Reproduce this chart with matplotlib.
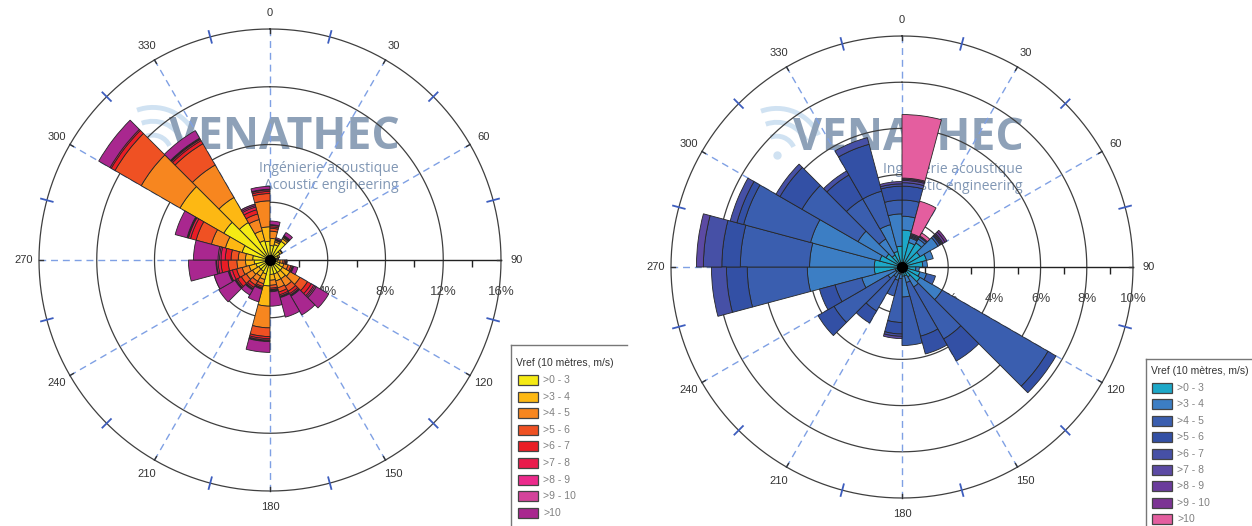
import numpy as np
import matplotlib
matplotlib.use("Agg")
import matplotlib.pyplot as plt
from matplotlib.patches import Rectangle, Arc
from matplotlib.lines import Line2D
from matplotlib.markers import TICKDOWN
from matplotlib.transforms import offset_copy

# ---------------- data ----------------
sector_start = list(range(0, 360, 15))          # 24 sectors of 15 degrees
speed_classes = [">0 - 3", ">3 - 4", ">4 - 5", ">5 - 6", ">6 - 7",
                 ">7 - 8", ">8 - 9", ">9 - 10", ">10"]
legend_title = "Vref (10 mètres, m/s)"
angle_labels = ["0", "30", "60", "90", "120", "150", "180", "210", "240", "270", "300", "330"]

# left rose (% frequency per class, sectors 0..345)
left_0_3 = [1.0, 1.1, 1.5, 0.8, 0.6, 0.45, 0.5, 0.7, 1.0, 1.0, 1.0, 1.0, 1.8, 1.0, 0.9, 0.9, 1.0, 1.1, 1.2, 2.0, 3.7, 3.0, 1.4, 1.3]
left_3_4 = [0.5, 0.2, 0.2, 0.15, 0.1, 0.1, 0.2, 0.3, 0.6, 0.5, 0.5, 0.4, 1.4, 0.4, 0.4, 0.5, 0.5, 0.6, 0.5, 1.2, 3.5, 2.0, 0.7, 1.0]
left_4_5 = [0.5, 0.1, 0.1, 0.05, 0, 0.05, 0.2, 0.3, 0.8, 0.6, 0.5, 0.35, 1.5, 0.3, 0.4, 0.5, 0.5, 0.6, 0.5, 1.0, 3.1, 2.6, 0.8, 1.8]
left_5_6 = [0.2, 0.05, 0.05, 0, 0, 0, 0.1, 0.2, 0.6, 0.4, 0.3, 0.2, 0.6, 0.2, 0.3, 0.4, 0.4, 0.6, 0.5, 1.1, 2.1, 1.7, 0.4, 0.5]
left_6_7 = [0.1, 0.05, 0.05, 0, 0, 0, 0.1, 0.1, 0.3, 0.2, 0.2, 0.1, 0.15, 0.1, 0.2, 0.3, 0.3, 0.5, 0.4, 0.4, 0.3, 0.25, 0.3, 0.15]
left_7_8 = [0.1, 0, 0.02, 0, 0, 0, 0.03, 0.05, 0.2, 0.1, 0.1, 0.05, 0.1, 0.05, 0.1, 0.1, 0.2, 0.2, 0.3, 0.15, 0.1, 0.1, 0.2, 0.1]
left_8_9 = [0.05, 0, 0.03, 0, 0, 0, 0.02, 0.05, 0.1, 0.05, 0.05, 0.05, 0.05, 0.05, 0.05, 0.05, 0.05, 0.1, 0.1, 0.05, 0, 0.05, 0.1, 0.05]
left_9_10 = [0, 0, 0, 0, 0, 0, 0, 0, 0.1, 0.05, 0.05, 0.05, 0.05, 0, 0.05, 0.05, 0.05, 0.05, 0.1, 0.05, 0, 0.05, 0, 0]
left_10p = [0.25, 0.1, 0.25, 0, 0, 0, 0.05, 0.3, 1.0, 1.5, 1.4, 1.0, 0.75, 0.9, 0.4, 1.3, 1.0, 1.9, 1.7, 0.85, 0.9, 0.6, 0.1, 0.2]

# right rose
right_0_3 = [1.6, 1.1, 1.2, 0.9, 1.1, 0.9, 0.6, 0.8, 0.9, 0.5, 0.4, 0.4, 0.3, 0.3, 0.2, 0.3, 0.3, 1.2, 1.2, 1.0, 0.8, 0.6, 0.7, 0.9]
right_3_4 = [0.6, 0.2, 0.2, 0.9, 0.3, 0.2, 0.15, 0.3, 1.1, 0.5, 0.3, 0.9, 0.2, 0.3, 0.3, 0.4, 1.5, 2.9, 2.8, 3.1, 1.4, 0.8, 1.2, 1.4]
right_4_5 = [0.7, 0.05, 0.1, 0.1, 0, 0, 0, 0.4, 5.3, 2.6, 2.4, 2.1, 1.9, 0.7, 1.7, 2.7, 1.2, 2.6, 3.0, 3.0, 2.8, 2.0, 1.5, 0.6]
right_5_6 = [0.6, 0.05, 0.05, 0.05, 0, 0, 0, 0, 0.4, 1.1, 0.8, 0, 0.5, 0, 0.6, 0.8, 0.7, 0.9, 0.8, 0.3, 1.1, 1.2, 2.1, 0.6]
right_6_7 = [0.15, 0.05, 0, 0.05, 0, 0, 0, 0, 0, 0, 0, 0, 0.1, 0, 0, 0, 0, 0.65, 0.8, 0.3, 0.2, 0.2, 0.3, 0.1]
right_7_8 = [0.1, 0.05, 0, 0.05, 0, 0, 0, 0, 0, 0, 0, 0, 0.1, 0, 0, 0, 0, 0, 0.3, 0, 0, 0, 0, 0.1]
right_8_9 = [0.05, 0, 0, 0.1, 0, 0, 0, 0, 0, 0, 0, 0, 0, 0, 0, 0, 0, 0, 0, 0, 0, 0, 0, 0]
right_9_10 = [0.05, 0, 0, 0.1, 0, 0, 0, 0, 0, 0, 0, 0, 0, 0, 0, 0, 0, 0, 0, 0, 0, 0, 0, 0]
right_10p = [2.75, 1.45, 0.15, 0, 0, 0, 0, 0, 0, 0, 0, 0, 0, 0, 0, 0, 0, 0, 0, 0, 0, 0, 0, 0]

left_colors = ["#F5EA14", "#FDB813", "#F7861F", "#EF5123", "#EA1D25",
               "#E91B4C", "#EC2A8C", "#D4449B", "#A9278F"]
right_colors = ["#1DA8C8", "#3C7EC4", "#3A5EAF", "#3350A5", "#4650A6",
                "#5C4AA4", "#6A3B9C", "#7C3394", "#E45E9F"]

left_rings = [4, 8, 12, 16]
right_rings = [2, 4, 6, 8, 10]
left_axis_ticks = [2, 6, 10, 14]
right_axis_ticks = [1, 3, 5, 7, 9]

# ---------------- figure ----------------
W, H = 1252, 526
fig = plt.figure(figsize=(W / 100, H / 100), dpi=100)
LBL_FONT = "Liberation Sans"


def make_rose(cx, cy, R, rmax, series, colors, rings, axticks):
    ax = fig.add_axes([(cx - R) / W, 1 - (cy + R) / H, 2 * R / W, 2 * R / H],
                      projection="polar")
    ax.set_theta_zero_location("N")
    ax.set_theta_direction(-1)
    ax.set_ylim(0, rmax)
    ax.set_axis_off()
    full = np.linspace(0, 2 * np.pi, 721)
    # rings
    for r in rings:
        ax.plot(full, np.full_like(full, r), color="#3f3f3f", lw=0.9,
                zorder=1, clip_on=False)
    # dashed spokes every 30 deg
    for a in range(0, 360, 30):
        if a == 90:
            continue
        ax.plot([np.radians(a)] * 2, [0, rmax], color="#7FA0E4", lw=1.0,
                dashes=(5, 3.5), zorder=1.1, clip_on=False)
    # radial axis (east)
    ax.plot([np.pi / 2] * 2, [0, rmax], color="#222222", lw=1.0, zorder=1.2,
            clip_on=False)
    ax.plot([np.pi / 2] * len(axticks), axticks, ls="none", marker=TICKDOWN,
            ms=5, mew=1.0, color="#222222", zorder=1.2, clip_on=False)
    # outer ticks
    px = rmax / R
    for a in range(0, 360, 30):
        ax.plot([np.radians(a)] * 2, [rmax - 4 * px, rmax], color="#333333",
                lw=1.0, zorder=1.2, clip_on=False)
        ax.plot([np.radians(a + 15)] * 2, [rmax - 6 * px, rmax + 6 * px],
                color="#3D5DBE", lw=1.3, zorder=1.2, clip_on=False)
    # angle labels
    for a, lab in zip(range(0, 360, 30), angle_labels):
        ax.text(np.radians(a), rmax * 1.068, lab, ha="center", va="center",
                fontsize=8, color="#333333", family=LBL_FONT, clip_on=False)
    # percentage labels
    trans = offset_copy(ax.transData, fig=fig, x=0, y=-23, units="points")
    for r in rings:
        ax.text(np.pi / 2, r, f"{r}%", transform=trans, ha="center", va="center",
                fontsize=9.5, color="#444444", family=LBL_FONT, zorder=1.3)
    # stacked bars
    theta = np.radians(np.array(sector_start) + 7.5)
    width = np.radians(15)
    bottom = np.zeros(len(sector_start))
    for vals, col in zip(series, colors):
        vals = np.array(vals, dtype=float)
        m = vals > 0
        ax.bar(theta[m], vals[m], width=width, bottom=bottom[m], color=col,
               edgecolor="#262626", linewidth=0.6, align="center", zorder=3)
        bottom = bottom + vals
    ax.plot([0], [0], "o", color="black", ms=7, zorder=4)
    return ax


def watermark(ax, xr, yb):
    tr = ax.transAxes
    ax.text(xr, yb, "VENATHEC", transform=tr, ha="right", va="baseline",
            fontsize=32, fontweight="bold", family="Open Sans",
            color="#8EA1B8", zorder=0.5)
    ax.text(xr - 0.004, yb - 0.05, "Ingénierie acoustique", transform=tr,
            ha="right", va="baseline", fontsize=10, family="Open Sans",
            color="#8197B4", zorder=0.5)
    ax.text(xr - 0.004, yb - 0.086, "Acoustic engineering", transform=tr,
            ha="right", va="baseline", fontsize=10, family="Open Sans",
            color="#8197B4", zorder=0.5)
    # signal icon
    dx, dy = xr - 0.535, yb - 0.01
    for rr in (0.04, 0.07, 0.10):
        ax.add_patch(Arc((dx, dy), 2 * rr, 2 * rr, theta1=25, theta2=110,
                         transform=tr, color="#D0E2F2", lw=3.5, zorder=0.4,
                         clip_on=False))
    ax.plot([dx], [dy], "o", transform=tr, color="#D0E2F2", ms=5, zorder=0.4,
            clip_on=False)


left_series = [left_0_3, left_3_4, left_4_5, left_5_6, left_6_7,
               left_7_8, left_8_9, left_9_10, left_10p]
right_series = [right_0_3, right_3_4, right_4_5, right_5_6, right_6_7,
                right_7_8, right_8_9, right_9_10, right_10p]

axL = make_rose(270, 260, 231, 16, left_series, left_colors, left_rings, left_axis_ticks)
axR = make_rose(902, 267, 231, 10, right_series, right_colors, right_rings, right_axis_ticks)
watermark(axL, (400 - 39) / 462, (491 - 149) / 462)
watermark(axR, (1024 - 671) / 462, (498 - 150) / 462)


# ---------------- legends ----------------
def fx(x):
    return x / W


def fy(y):
    return 1 - y / H


def legend(x0, y0, xend, title_y, first_y, step, rect_x, label_x, colors):
    fig.add_artist(Line2D([fx(x0), fx(xend)], [fy(y0), fy(y0)], color="#777777",
                          lw=1.0, transform=fig.transFigure))
    fig.add_artist(Line2D([fx(x0), fx(x0)], [fy(y0), fy(H + 5)], color="#777777",
                          lw=1.0, transform=fig.transFigure))
    fig.text(fx(x0 + 5), fy(title_y), legend_title, fontsize=7.5, color="#333333",
             family=LBL_FONT, va="center", ha="left")
    for i, (lab, col) in enumerate(zip(speed_classes, colors)):
        yc = first_y + step * i
        fig.add_artist(Rectangle((fx(rect_x), fy(yc + 5)), fx(20), 10 / H,
                                 facecolor=col, edgecolor="#444444", lw=0.9,
                                 transform=fig.transFigure))
        fig.text(fx(label_x), fy(yc), lab, fontsize=7.5, color="#808080",
                 family=LBL_FONT, va="center", ha="left")


legend(511, 345, 627, 363, 380, 16.6, 518, 543, left_colors)
legend(1146, 359, 1252, 371, 388, 16.4, 1152, 1177, right_colors)

fig.savefig("out.png", dpi=100)
